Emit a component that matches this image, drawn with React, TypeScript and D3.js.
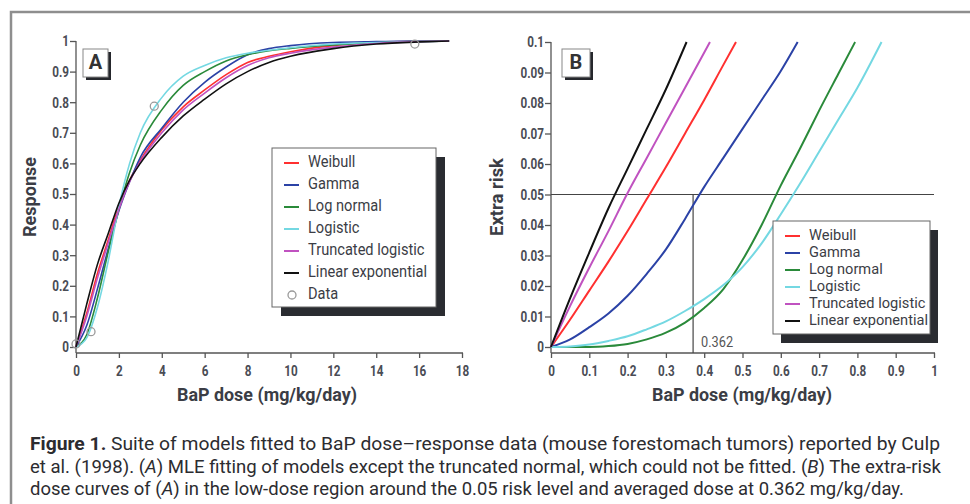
import React, { useEffect, useRef } from 'react';
import * as d3 from 'd3';

const models = ['Weibull', 'Gamma', 'Log normal', 'Logistic', 'Truncated logistic', 'Linear exponential'];
const modelColors = ['#ff3030', '#2b42a6', '#2a8a3a', '#74d8e2', '#c052c0', '#111111'];

// Panel A: fitted response curves (dose in mg/kg/day)
const doseA = [0, 0.5, 1, 1.5, 2, 2.5, 3, 4, 5, 6, 7, 8, 9, 10, 12, 14, 16, 17.4];
const weibullA = [0, 0.11, 0.24, 0.35, 0.46, 0.545, 0.61, 0.71, 0.785, 0.84, 0.89, 0.93, 0.95, 0.965, 0.985, 0.995, 0.999, 1.0];
const gammaA = [0, 0.07, 0.19, 0.32, 0.445, 0.54, 0.62, 0.715, 0.8, 0.865, 0.915, 0.955, 0.975, 0.985, 0.995, 0.998, 1.0, 1.0];
const logNormalA = [0, 0.04, 0.16, 0.31, 0.45, 0.57, 0.66, 0.775, 0.855, 0.9, 0.935, 0.955, 0.968, 0.976, 0.987, 0.994, 0.998, 1.0];
const logisticA = [0, 0.03, 0.13, 0.28, 0.46, 0.6, 0.7, 0.815, 0.885, 0.92, 0.945, 0.96, 0.97, 0.978, 0.99, 0.995, 0.998, 1.0];
const truncLogisticA = [0, 0.1, 0.225, 0.34, 0.45, 0.54, 0.605, 0.7, 0.775, 0.83, 0.88, 0.92, 0.945, 0.96, 0.98, 0.992, 0.998, 1.0];
const linExpA = [0, 0.14, 0.27, 0.37, 0.47, 0.545, 0.6, 0.685, 0.755, 0.81, 0.86, 0.9, 0.93, 0.95, 0.975, 0.99, 0.997, 1.0];

// observed data
const dataDose = [0, 0.7, 3.65, 15.8];
const dataResponse = [0.01, 0.05, 0.787, 0.99];

// Panel B: extra risk in the low-dose region
const weibullDoseB = [0, 0.05, 0.1, 0.15, 0.2, 0.25, 0.3, 0.35, 0.4, 0.45, 0.483];
const weibullRiskB = [0, 0.009, 0.0185, 0.028, 0.038, 0.0485, 0.059, 0.07, 0.081, 0.0925, 0.1];
const gammaDoseB = [0, 0.05, 0.1, 0.15, 0.2, 0.25, 0.3, 0.35, 0.4, 0.45, 0.5, 0.55, 0.6, 0.644];
const gammaRiskB = [0, 0.0025, 0.0065, 0.011, 0.0168, 0.024, 0.032, 0.042, 0.0525, 0.062, 0.0715, 0.081, 0.0905, 0.1];
const logNormalDoseB = [0, 0.1, 0.15, 0.2, 0.25, 0.3, 0.35, 0.4, 0.45, 0.5, 0.55, 0.6, 0.65, 0.7, 0.75, 0.794];
const logNormalRiskB = [0, 0, 0.0003, 0.001, 0.0025, 0.0047, 0.008, 0.0128, 0.019, 0.0285, 0.04, 0.053, 0.065, 0.0775, 0.0895, 0.1];
const logisticDoseB = [0, 0.05, 0.1, 0.15, 0.2, 0.25, 0.3, 0.35, 0.4, 0.45, 0.5, 0.55, 0.6, 0.65, 0.7, 0.75, 0.8, 0.863];
const logisticRiskB = [0, 0.0002, 0.0008, 0.002, 0.0035, 0.0058, 0.0084, 0.0118, 0.0157, 0.0203, 0.0262, 0.034, 0.0435, 0.0535, 0.064, 0.0745, 0.085, 0.1];
const truncLogisticDoseB = [0, 0.05, 0.1, 0.15, 0.2, 0.25, 0.3, 0.35, 0.415];
const truncLogisticRiskB = [0, 0.0135, 0.026, 0.038, 0.0505, 0.062, 0.0735, 0.085, 0.1];
const linExpDoseB = [0, 0.05, 0.1, 0.15, 0.2, 0.25, 0.3, 0.354];
const linExpRiskB = [0, 0.016, 0.031, 0.0455, 0.0585, 0.0715, 0.0845, 0.1];

const riskLevel = 0.05;
const avgDoseMark = 0.371;
const avgDoseLabel = '0.362';

const xTicksA = [0, 2, 4, 6, 8, 10, 12, 14, 16, 18];
const yTicksA = [0, 0.1, 0.2, 0.3, 0.4, 0.5, 0.6, 0.7, 0.8, 0.9, 1];
const xTicksB = [0, 0.1, 0.2, 0.3, 0.4, 0.5, 0.6, 0.7, 0.8, 0.9, 1];
const yTicksB = [0, 0.01, 0.02, 0.03, 0.04, 0.05, 0.06, 0.07, 0.08, 0.09, 0.1];

const FONT = "Roboto, 'Liberation Sans', sans-serif";
const INK = '#3b3d45';

// squeeze a text horizontally, the original uses a condensed face
const squeeze = (sel, factor) => {
    sel.each(function () {
        const w = this.getComputedTextLength();
        if (w > 0) d3.select(this).attr('textLength', w * factor).attr('lengthAdjust', 'spacingAndGlyphs');
    });
};

function App() {
    const svgRef = useRef(null);

    useEffect(() => {
        document.body.style.margin = '0';
        const svg = d3.select(svgRef.current);
        svg.selectAll('*').remove();

        // outer frame
        svg.append('rect')
            .attr('x', 11).attr('y', 12)
            .attr('width', 990).attr('height', 520)
            .attr('fill', 'none').attr('stroke', '#8e8e8e').attr('stroke-width', 2.5);

        const axisBase = 353;

        const drawAxes = (x, y, xTicks, yTicks) => {
            const [x0, x1] = x.range();
            const yTop = y.range()[1];
            const g = svg.append('g');
            g.append('line').attr('x1', x0).attr('x2', x0).attr('y1', yTop).attr('y2', axisBase)
                .attr('stroke', '#555').attr('stroke-width', 1.3);
            g.append('line').attr('x1', x0).attr('x2', x1 + 1).attr('y1', axisBase).attr('y2', axisBase)
                .attr('stroke', '#555').attr('stroke-width', 1.3);

            const ya = g.append('g')
                .attr('transform', `translate(${x0},0)`)
                .call(d3.axisLeft(y).tickValues(yTicks).tickSize(6).tickPadding(1).tickFormat(d => String(d)));
            const xa = g.append('g')
                .attr('transform', `translate(0,${axisBase})`)
                .call(d3.axisBottom(x).tickValues(xTicks).tickSize(5).tickPadding(7).tickFormat(d => String(d)));
            [ya, xa].forEach(a => {
                a.select('.domain').remove();
                a.attr('font-family', FONT).attr('font-size', 15).attr('font-weight', 'bold');
                a.selectAll('line').attr('stroke', '#555').attr('stroke-width', 1.3);
                a.selectAll('text').attr('fill', '#4a4c55');
                squeeze(a.selectAll('text'), 0.78);
            });
        };

        const drawLetter = (lx, ly, w, h, letter) => {
            svg.append('rect').attr('x', lx + 3).attr('y', ly + 3).attr('width', w).attr('height', h).attr('fill', '#25272c');
            svg.append('rect').attr('x', lx).attr('y', ly).attr('width', w).attr('height', h)
                .attr('fill', '#fff').attr('stroke', '#888').attr('stroke-width', 1);
            svg.append('text').attr('x', lx + w / 2).attr('y', ly + h / 2 + 1)
                .attr('text-anchor', 'middle').attr('dominant-baseline', 'middle')
                .attr('font-family', FONT).attr('font-weight', 'bold').attr('font-size', 20)
                .attr('fill', '#333').text(letter);
        };

        const drawLegend = (bx, by, w, h, shadow, rowY, step, fontSize, withData) => {
            svg.append('rect').attr('x', bx + shadow[0]).attr('y', by + shadow[1]).attr('width', w).attr('height', h).attr('fill', '#2a2c31');
            svg.append('rect').attr('x', bx).attr('y', by).attr('width', w).attr('height', h)
                .attr('fill', '#fff').attr('stroke', '#666').attr('stroke-width', 1);
            const lg = svg.append('g').attr('font-family', FONT).attr('font-size', fontSize).attr('fill', INK);
            const labels = withData ? models.concat(['Data']) : models;
            labels.forEach((name, i) => {
                const cy = rowY + i * step;
                if (i < models.length) {
                    lg.append('line').attr('x1', bx + 12).attr('x2', bx + 27).attr('y1', cy).attr('y2', cy)
                        .attr('stroke', modelColors[i]).attr('stroke-width', 2);
                } else {
                    lg.append('circle').attr('cx', bx + 20).attr('cy', cy).attr('r', 4)
                        .attr('fill', 'none').attr('stroke', '#9a9a9a').attr('stroke-width', 1.3);
                }
                lg.append('text').attr('x', bx + 36).attr('y', cy).attr('dominant-baseline', 'middle').text(name);
            });
            // fit so the longest label is as wide as in the original
            const texts = lg.selectAll('text');
            const longest = d3.max(texts.nodes(), n => n.getComputedTextLength());
            squeeze(texts, 119 / longest);
        };

        const line = (x, y) => d3.line().x(d => x(d[0])).y(d => y(d[1])).curve(d3.curveMonotoneX);

        const axisTitle = (x, y, rotate, len, label) => {
            svg.append('text').attr('transform', `translate(${x},${y})${rotate ? ' rotate(-90)' : ''}`)
                .attr('text-anchor', 'middle').attr('font-family', FONT).attr('font-weight', 'bold')
                .attr('font-size', 19).attr('fill', INK)
                .attr('textLength', len).attr('lengthAdjust', 'spacingAndGlyphs').text(label);
        };

        // ---------- Panel A ----------
        const xA = d3.scaleLinear().domain([0, 18]).range([76, 462]);
        const yA = d3.scaleLinear().domain([0, 1]).range([347, 41]);
        drawAxes(xA, yA, xTicksA, yTicksA);

        const seriesA = [weibullA, gammaA, logNormalA, logisticA, truncLogisticA, linExpA];
        const lineA = line(xA, yA);
        seriesA.forEach((vals, i) => {
            svg.append('path')
                .datum(doseA.map((d, j) => [d, vals[j]]))
                .attr('fill', 'none').attr('stroke', modelColors[i]).attr('stroke-width', 1.6)
                .attr('d', lineA);
        });
        dataDose.forEach((d, i) => {
            svg.append('circle').attr('cx', xA(d)).attr('cy', yA(dataResponse[i])).attr('r', 4)
                .attr('fill', 'none').attr('stroke', '#9a9a9a').attr('stroke-width', 1.3);
        });

        drawLetter(83, 49, 25, 28, 'A');
        drawLegend(272, 148, 164, 159, [9, 9], 163, 22, 16, true);

        axisTitle(36, 197, true, 80, 'Response');
        axisTitle(267, 401, false, 180, 'BaP dose (mg/kg/day)');

        // ---------- Panel B ----------
        const xB = d3.scaleLinear().domain([0, 1]).range([551, 934]);
        const yB = d3.scaleLinear().domain([0, 0.1]).range([347, 42]);
        drawAxes(xB, yB, xTicksB, yTicksB);

        svg.append('line').attr('x1', xB(0)).attr('x2', xB(1)).attr('y1', yB(riskLevel)).attr('y2', yB(riskLevel))
            .attr('stroke', '#444').attr('stroke-width', 1.2);
        svg.append('line').attr('x1', xB(avgDoseMark)).attr('x2', xB(avgDoseMark)).attr('y1', yB(riskLevel)).attr('y2', axisBase)
            .attr('stroke', '#444').attr('stroke-width', 1.2);
        const avgText = svg.append('text').attr('x', xB(avgDoseMark) + 8).attr('y', 343)
            .attr('dominant-baseline', 'middle').attr('font-family', FONT).attr('font-size', 15)
            .attr('fill', '#555').text(avgDoseLabel);
        squeeze(avgText, 0.85);

        const seriesB = [
            [weibullDoseB, weibullRiskB],
            [gammaDoseB, gammaRiskB],
            [logNormalDoseB, logNormalRiskB],
            [logisticDoseB, logisticRiskB],
            [truncLogisticDoseB, truncLogisticRiskB],
            [linExpDoseB, linExpRiskB],
        ];
        const lineB = line(xB, yB);
        seriesB.forEach(([ds, rs], i) => {
            svg.append('path')
                .datum(ds.map((d, j) => [d, rs[j]]))
                .attr('fill', 'none').attr('stroke', modelColors[i]).attr('stroke-width', 2)
                .attr('d', lineB);
        });

        drawLetter(562, 49, 28, 28, 'B');
        drawLegend(773, 221, 157, 113, [8, 9], 236, 17, 14, false);

        axisTitle(503, 197, true, 78, 'Extra risk');
        axisTitle(742, 401, false, 180, 'BaP dose (mg/kg/day)');

        // ---------- Caption ----------
        const cap = svg.append('g').attr('font-family', FONT).attr('font-size', 18).attr('fill', '#2c2c30');
        const captionLines = [
            { y: 450, len: 910, parts: [['Figure 1.', 'b'], [' Suite of models fitted to BaP dose\u2013response data (mouse forestomach tumors) reported by Culp', '']] },
            { y: 473, len: 911, parts: [['et al. (1998). (', ''], ['A', 'i'], [') MLE fitting of models except the truncated normal, which could not be fitted. (', ''], ['B', 'i'], [') The extra-risk', '']] },
            { y: 495, len: 874, parts: [['dose curves of (', ''], ['A', 'i'], [') in the low-dose region around the 0.05 risk level and averaged dose at 0.362 mg/kg/day.', '']] },
        ];
        captionLines.forEach(l => {
            const t = cap.append('text').attr('x', 30).attr('y', l.y)
                .attr('textLength', l.len).attr('lengthAdjust', 'spacingAndGlyphs');
            l.parts.forEach(([s, st]) => {
                const ts = t.append('tspan').text(s);
                if (st === 'b') ts.attr('font-weight', 'bold');
                if (st === 'i') ts.attr('font-style', 'italic');
            });
        });
    }, []);

    return (
        <div>
            <svg ref={svgRef} width={970} height={504} style={{ display: 'block', background: '#fff' }}></svg>
        </div>
    );
}

export default App;
